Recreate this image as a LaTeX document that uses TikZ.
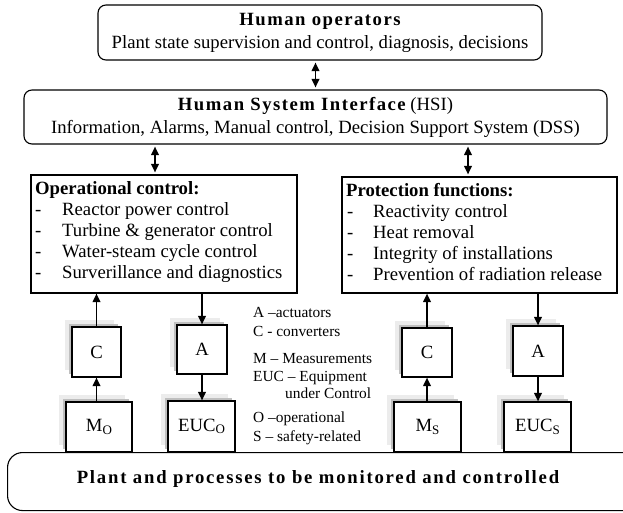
\documentclass[tikz,border=0pt]{standalone}
\usepackage{fontspec}
\setmainfont{Liberation Serif}
\newfontfamily\trackfont[LetterSpace=8]{Liberation Serif}
\newfontfamily\widetrackfont[LetterSpace=9.5]{Liberation Serif}
\usetikzlibrary{arrows.meta,shadows}

\newcommand\mainsize{\fontsize{18.7}{23}\selectfont}
\newcommand\legendsize{\fontsize{15.4}{18}\selectfont}
\newcommand\lowsub[1]{\raisebox{-0.3ex}{\fontsize{13}{13}\selectfont #1}}

\tikzset{
  panel/.style={draw, rounded corners=8pt, line width=1.1pt, inner sep=0pt, align=center},
  funcbox/.style={draw, line width=1.1pt, inner sep=0pt},
  unitbox/.style={draw, fill=white, line width=1.1pt, inner sep=0pt,
    drop shadow={shadow xshift=-7pt, shadow yshift=7pt, fill=gray!15, opacity=1},
    drop shadow={shadow xshift=-3.5pt, shadow yshift=3.5pt, fill=gray!50, opacity=1}},
  txt/.style={anchor=base west, inner sep=0pt},
  legend/.style={anchor=base west, inner sep=0pt, font=\legendsize},
  oneway/.style={line width=1.8pt, -{Triangle[length=8.5pt,width=7.5pt]}},
  twoway/.style={line width=1.8pt, {Triangle[length=8.5pt,width=7.5pt]}-{Triangle[length=8.5pt,width=7.5pt]}, shorten <=2pt, shorten >=2pt}
}

\begin{document}
\begin{tikzpicture}[x=1pt, y=-1pt, font=\mainsize]
  \useasboundingbox (0,0) rectangle (623,512);
  \clip (0,0) rectangle (623,512);

  % operators and interface
  \node[panel, minimum width=444pt, minimum height=55pt] (oper) at (320,32.5) {{\trackfont\bfseries Human operators}\\ Plant state supervision and control, diagnosis, decisions};
  \node[panel, minimum width=583pt, minimum height=54pt] (hsi) at (315.5,117) {{\trackfont\bfseries Human System Interface} (HSI)\\ Information, Alarms, Manual control, Decision Support System (DSS)};
  \draw[twoway] (hsi.north |- oper.south) -- (hsi.north);

  % the two function blocks
  \node[funcbox, minimum width=266pt, minimum height=118pt] (opc) at (164,234) {};
  \node[funcbox, minimum width=275pt, minimum height=116pt] (prot) at (479.5,235) {};
  \draw[twoway] ([xshift=-9pt]opc.north) -- ([xshift=-9pt]opc.north |- hsi.south);
  \draw[twoway] ([xshift=-11.5pt]prot.north) -- ([xshift=-11.5pt]prot.north |- hsi.south);

  \node[txt] (opchead) at (35,194) {\bfseries Operational control:};
  \foreach \txt [count=\i] in {Reactor power control, Turbine \& generator control, Water-steam cycle control, Surverillance and diagnostics}
    {\node[txt] (opcdash\i) at (35,194+21*\i) {-}; \node[txt] (opcitem\i) at (62,194+21*\i) {\txt};}
  \node[txt] (prothead) at (346,196) {\bfseries Protection functions:};
  \foreach \txt [count=\i] in {Reactivity control, Heat removal, Integrity of installations, Prevention of radiation release}
    {\node[txt] (protdash\i) at (347,196+21*\i) {-}; \node[txt] (protitem\i) at (373,196+21*\i) {\txt};}

  % converters, actuators, measurements, equipment
  \node[unitbox, minimum width=49pt, minimum height=50pt] (co) at (96.5,352) {C};
  \node[unitbox, minimum width=50pt, minimum height=49pt] (ao) at (202,349.5) {A};
  \node[unitbox, minimum width=66pt, minimum height=50pt] (mo) at (99,427) {M\lowsub{O}};
  \node[unitbox, minimum width=67pt, minimum height=51pt] (euco) at (201.5,426.5) {EUC\lowsub{O}};
  \node[unitbox, minimum width=50pt, minimum height=49pt] (cs) at (427,352.5) {C};
  \node[unitbox, minimum width=50pt, minimum height=50pt] (as) at (538,351) {A};
  \node[unitbox, minimum width=67pt, minimum height=50pt] (ms) at (427.5,427) {M\lowsub{S}};
  \node[unitbox, minimum width=67pt, minimum height=50pt] (eucs) at (537.5,427) {EUC\lowsub{S}};

  \draw[oneway] (co.north) -- (co.north |- opc.south);
  \draw[oneway] (ao.north |- opc.south) -- (ao.north);
  \draw[oneway] (co.south |- mo.north) -- (co.south);
  \draw[oneway] (ao.south) -- (ao.south |- euco.north);
  \draw[oneway] (cs.north) -- (cs.north |- prot.south);
  \draw[oneway] (as.north |- prot.south) -- (as.north);
  \draw[oneway] (cs.south |- ms.north) -- (cs.south);
  \draw[oneway] (as.south) -- (as.south |- eucs.north);

  % abbreviations
  \node[legend] (lga) at (253,317) {A –actuators};
  \node[legend] (lgc) at (253,336) {C - converters};
  \node[legend] (lgm) at (253,363) {M – Measurements};
  \node[legend] (lgeuc) at (253,381) {EUC – Equipment};
  \node[legend] (lgeuc2) at (285,398) {under Control};
  \node[legend] (lgo) at (253,422) {O –operational};
  \node[legend] (lgs) at (253,441) {S – safety-related};

  % plant
  \node[panel, rounded corners=15pt, minimum width=650pt, minimum height=58pt, anchor=north west] (plant) at (7,452) {};
  \node[inner sep=0pt, anchor=base] (planttxt) at (318,483) {\widetrackfont\bfseries Plant and processes to be monitored and controlled};
\end{tikzpicture}
\end{document}
